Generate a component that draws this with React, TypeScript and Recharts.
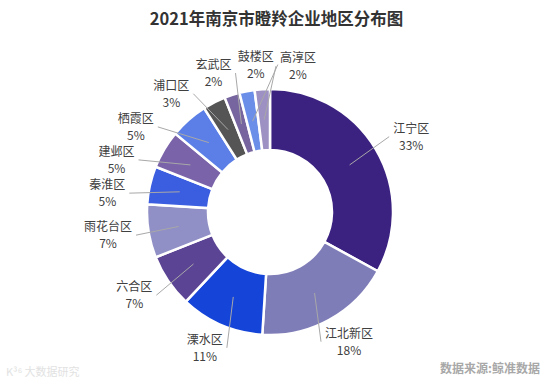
import { PieChart, Pie, Cell } from "recharts";

const districts = [
  "江宁区",
  "江北新区",
  "溧水区",
  "六合区",
  "雨花台区",
  "秦淮区",
  "建邺区",
  "栖霞区",
  "浦口区",
  "玄武区",
  "鼓楼区",
  "高淳区",
];
const shares = [33, 18, 11, 7, 7, 5, 5, 5, 3, 2, 2, 2];
const sliceColors = [
  "#3b2280",
  "#7f7db8",
  "#1444d8",
  "#5b4494",
  "#908fc6",
  "#3b5de0",
  "#7a63a9",
  "#5b7fe6",
  "#555555",
  "#77659f",
  "#6b8ee8",
  "#9d90c2",
];

const data = districts.map((name, i) => ({ name, value: shares[i] }));

const total = shares.reduce((a, b) => a + b, 0);
const RAD = Math.PI / 180;
const CX = 265;
const CY = 207;
const LABEL_RX = 164;
const LABEL_RY = 148;

// middle of each slice, degrees clockwise from 12 o'clock
const midAngles = (() => {
  let acc = 0;
  return shares.map((v) => {
    const mid = ((acc + v / 2) / total) * 360;
    acc += v;
    return mid;
  });
})();

function polar(cx: number, cy: number, rx: number, ry: number, deg: number) {
  return [cx + rx * Math.sin(deg * RAD), cy - ry * Math.cos(deg * RAD)];
}

// nudge neighbouring labels round the ring until their boxes stop overlapping
function spreadLabels(angles: number[]) {
  const a = [...angles];
  const widths = districts.map((n) => n.length * 12);
  for (let iter = 0; iter < 1500; iter++) {
    let moved = false;
    for (let i = 0; i < a.length; i++) {
      const j = (i + 1) % a.length;
      const [xi, yi] = polar(0, 0, LABEL_RX, LABEL_RY, a[i]);
      const [xj, yj] = polar(0, 0, LABEL_RX, LABEL_RY, a[j]);
      const needX = (widths[i] + widths[j]) / 2 + 6 - Math.abs(xi - xj);
      const needY = 33 - Math.abs(yi - yj);
      if (needX > 0 && needY > 0) {
        a[i] -= 0.11;
        a[j] += 0.09;
        moved = true;
      }
    }
    if (!moved) break;
  }
  return a;
}

const labelAngles = spreadLabels(midAngles);

function renderLabel(props: any) {
  const { cx, cy, innerRadius, outerRadius } = props;
  const index =
    typeof props.index === "number" ? props.index : districts.indexOf(props.name);
  const name = districts[index];
  const mr = (innerRadius + outerRadius) / 2;
  const [sx, sy] = polar(cx, cy, mr, mr, midAngles[index]);
  const [lx, ly] = polar(cx, cy, LABEL_RX, LABEL_RY, labelAngles[index]);
  const halfW = (name.length * 12) / 2;
  const ex = lx >= cx ? lx - halfW - 4 : lx + halfW + 4;
  return (
    <g key={`lbl-${index}`}>
      <polyline
        points={`${sx},${sy} ${ex},${ly}`}
        fill="none"
        stroke="#a8a8a8"
        strokeWidth={1}
      />
      <text
        x={lx}
        y={ly - 4}
        textAnchor="middle"
        fontSize={12}
        fill="#404040"
        fontFamily="'Noto Sans CJK SC', sans-serif"
      >
        <tspan x={lx}>{name}</tspan>
        <tspan x={lx} dy={17}>{`${shares[index]}%`}</tspan>
      </text>
    </g>
  );
}

export default function App() {
  return (
    <div
      style={{
        position: "absolute",
        left: 0,
        top: 0,
        width: 555,
        height: 384,
        background: "#ffffff",
        fontFamily: "'Noto Sans CJK SC', sans-serif",
      }}
    >
      <div
        style={{
          position: "absolute",
          left: 0,
          top: 6,
          width: 553,
          textAlign: "center",
          fontSize: 16.5,
          lineHeight: "24px",
          fontWeight: 700,
          color: "#333333",
        }}
      >
        2021年南京市瞪羚企业地区分布图
      </div>
      <PieChart width={555} height={384}>
        <Pie
          data={data}
          dataKey="value"
          nameKey="name"
          cx={CX}
          cy={CY}
          innerRadius={62}
          outerRadius={123}
          startAngle={90}
          endAngle={-270}
          stroke="#ffffff"
          strokeWidth={2.5}
          label={renderLabel}
          labelLine={false}
          isAnimationActive={false}
        >
          {data.map((d, i) => (
            <Cell key={d.name} fill={sliceColors[i]} />
          ))}
        </Pie>
      </PieChart>
      <div
        style={{
          position: "absolute",
          right: 15,
          top: 359,
          fontSize: 12,
          lineHeight: "18px",
          fontWeight: 700,
          color: "#a8a8a8",
        }}
      >
        数据来源:鲸准数据
      </div>
      <div
        style={{
          position: "absolute",
          left: 6,
          top: 363,
          fontSize: 11,
          lineHeight: "16px",
          color: "#e2e2e2",
        }}
      >
        K³⁶ 大数据研究
      </div>
    </div>
  );
}
